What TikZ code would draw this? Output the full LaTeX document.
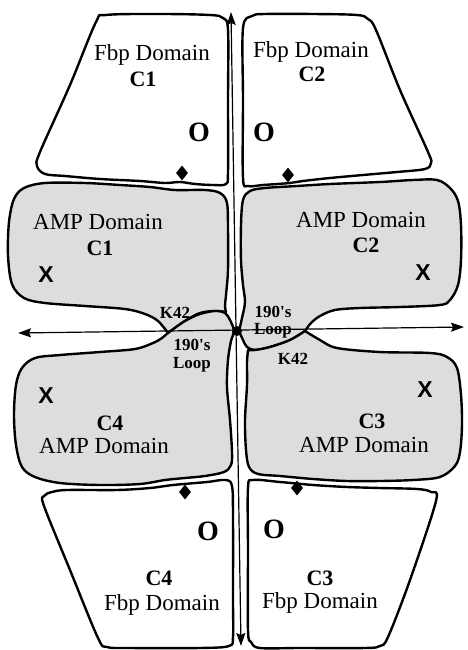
\documentclass[tikz,border=0pt]{standalone}
\usepackage{fontspec}
\setmainfont{Liberation Serif}
\newfontfamily\xsans{Liberation Sans}
\usetikzlibrary{arrows.meta,shapes.geometric}
\definecolor{ampgray}{RGB}{221,221,221}
\tikzset{
  outl/.style={line width=2.4pt, line join=round, draw=black},
  amp/.style={outl, fill=ampgray},
  fbp/.style={outl, fill=white},
  axisline/.style={line width=1.2pt, {Stealth[length=13pt,width=9pt,inset=2pt]}-{Stealth[length=13pt,width=9pt,inset=2pt]}},
  lbl/.style={font=\fontsize{23}{26}\selectfont, anchor=base, inner sep=0pt},
  blbl/.style={font=\bfseries\fontsize{22}{26}\selectfont, anchor=base, inner sep=0pt},
  obl/.style={font=\bfseries\fontsize{28}{30}\selectfont, anchor=base, inner sep=0pt},
  xbl/.style={font=\xsans\bfseries\fontsize{23}{26}\selectfont, anchor=base, inner sep=0pt},
  sbl/.style={font=\bfseries\fontsize{17}{19}\selectfont, anchor=base, inner sep=0pt},
  gem/.style={diamond, fill=black, minimum width=12pt, minimum height=15pt, inner sep=0pt},
  ctrdot/.style={circle, fill=black, minimum size=10pt, inner sep=0pt}
}
\begin{document}
\begin{tikzpicture}[x=1pt,y=-1pt]
\useasboundingbox (0,0) rectangle (467,650);

% ---------- AMP domains ----------
% C1
\filldraw[amp] plot[smooth, tension=0.55] coordinates {(168,333) (158,321) (145,314) (125,309) (85,306) (45,303) (24,298) (12,284) (8,255) (9,222) (14,199) (24,188) (45,183) (85,183) (120,185) (150,187) (175,190) (205,190) (220,193) (227,203) (228,230) (228,270) (226,295) (225,306) (226,312)}
  -- plot[smooth, tension=0.55] coordinates {(226,312) (215,311) (200,313) (185,321) (168,333)} -- cycle;
% C4
\filldraw[amp] plot[smooth cycle, tension=0.55] coordinates {(168,333) (185,321) (200,314) (215,311) (225,313) (230,320) (234,331) (231,341) (228,360) (227,387) (230,420) (232,452) (231,465) (224,472) (205,476) (185,478) (165,480) (140,484) (100,485) (60,483) (35,477) (22,467) (16,445) (14,415) (16,385) (22,368) (35,358) (60,355) (100,352) (135,349) (153,343) (162,338)};
% C2
\filldraw[amp] plot[smooth, tension=0.55] coordinates {(305,331) (311,323) (320,316) (335,310) (360,308) (400,307) (440,305) (450,300) (458,285) (461,260) (461,225) (458,201) (450,188) (437,180) (413,180) (380,182) (330,184) (297,186) (265,188) (250,191) (243,200) (241,225) (241,260) (243,285) (245,302) (242,318) (239,331)}
  -- plot[smooth, tension=0.55] coordinates {(239,331) (243,340) (247,347) (255,350) (270,347) (290,340) (305,331)} -- cycle;
% C3
\filldraw[amp] plot[smooth, tension=0.55] coordinates {(305,331) (320,340) (337,348) (380,352) (430,353) (447,357) (457,368) (461,395) (462,425) (460,452) (455,466) (440,477) (413,480) (380,481) (347,481) (313,479) (280,476) (258,474) (249,467) (246,450) (245,420) (247,385) (247,362) (248,350)}
  -- plot[smooth, tension=0.55] coordinates {(248,350) (255,350) (270,347) (290,340) (305,331)} -- cycle;

% ---------- Fbp domains ----------
% C1
\filldraw[fbp] plot[smooth cycle, tension=0.55] coordinates {(106,15) (160,14) (210,15) (223,18) (228,30) (228,100) (228,172) (226,184) (213,185) (195,184) (180,182) (165,183) (140,181) (100,179) (65,176) (45,174) (37,166) (40,152) (70,85) (96,22)};
% C2
\filldraw[fbp] plot[smooth cycle, tension=0.55] coordinates {(252,16) (265,14) (313,14) (357,15) (368,19) (376,30) (400,90) (428,152) (431,163) (425,169) (397,172) (363,175) (330,178) (303,181) (290,183) (263,185) (248,186) (243,178) (243,100) (243,28)};
% C4
\filldraw[fbp] plot[smooth cycle, tension=0.55] coordinates {(52,492) (67,490) (117,490) (150,488) (173,485) (207,482) (225,480) (232,486) (233,520) (233,600) (233,637) (229,646) (200,648) (130,648) (107,647) (98,638) (70,570) (44,506) (44,496)};
% C3
\filldraw[fbp] plot[smooth cycle, tension=0.55] coordinates {(253,480) (280,482) (313,485) (347,487) (380,488) (417,489) (431,492) (436,501) (410,580) (388,637) (380,646) (365,648) (300,648) (260,648) (251,642) (248,630) (248,550) (248,488)};

% ---------- labels ----------
\node[lbl]  (f1t) at (152,61) {Fbp Domain};
\node[blbl] (f1c) at (143,87) {C1};
\node[obl]  (f1o) at (199,142) {O};
\node[gem]  (f1d) at (182,173) {};

\node[lbl]  (f2t) at (311,58) {Fbp Domain};
\node[blbl] (f2c) at (312,82) {C2};
\node[obl]  (f2o) at (264,142) {O};
\node[gem]  (f2d) at (288,175) {};

\node[lbl]  (a1t) at (98,229) {AMP Domain};
\node[blbl] (a1c) at (100,255) {C1};
\node[xbl]  (a1x) at (46,282) {X};
\node[sbl]  (k1)  at (175,318) {K42};
\node[sbl]  (l1a) at (192,350) {190\textquotesingle s};
\node[sbl]  (l1b) at (192,368) {Loop};

\node[lbl]  (a2t) at (361,227) {AMP Domain};
\node[blbl] (a2c) at (366,252) {C2};
\node[xbl]  (a2x) at (423,280) {X};
\node[sbl]  (l2a) at (273,317) {190\textquotesingle s};
\node[sbl]  (l2b) at (273,334) {Loop};
\node[sbl]  (k2)  at (293,364) {K42};

\node[xbl]  (a4x) at (46,403) {X};
\node[blbl] (a4c) at (110,430) {C4};
\node[lbl]  (a4t) at (104,453) {AMP Domain};

\node[xbl]  (a3x) at (425,397) {X};
\node[blbl] (a3c) at (372,428) {C3};
\node[lbl]  (a3t) at (364,452) {AMP Domain};

\node[gem]  (f4d) at (185,492) {};
\node[obl]  (f4o) at (208,540) {O};
\node[blbl] (f4c) at (159,585) {C4};
\node[lbl]  (f4t) at (162,610) {Fbp Domain};

\node[gem]  (f3d) at (297,488) {};
\node[obl]  (f3o) at (274,538) {O};
\node[blbl] (f3c) at (320,585) {C3};
\node[lbl]  (f3t) at (320,608) {Fbp Domain};

% ---------- axes ----------
\coordinate (vt) at (231,12);
\coordinate (vb) at (241,646);
\coordinate (hl) at (18,333);
\coordinate (hr) at (464,327);
\draw[axisline] (vt) -- (vb);
\draw[axisline] (hl) -- (hr);
\node[ctrdot] (ctr) at (237,331) {};
\end{tikzpicture}
\end{document}
